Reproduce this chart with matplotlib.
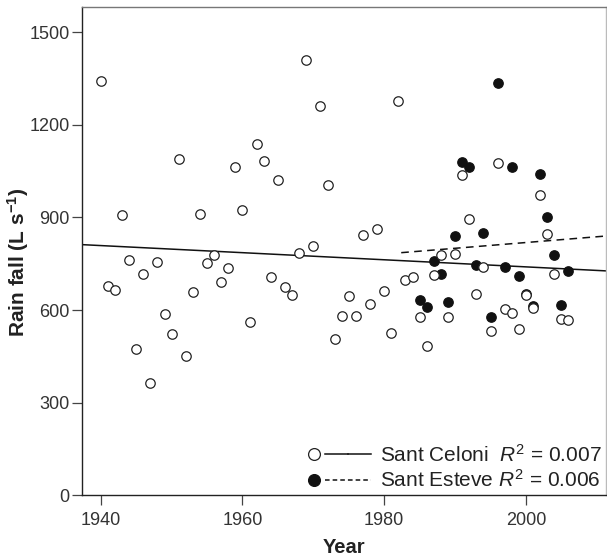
import matplotlib
matplotlib.use('Agg')
import matplotlib.pyplot as plt
from matplotlib.lines import Line2D
from matplotlib.legend_handler import HandlerTuple

plt.rcParams['font.family'] = ['Liberation Sans', 'DejaVu Sans']
plt.rcParams['mathtext.fontset'] = 'custom'
plt.rcParams['mathtext.rm'] = 'Liberation Sans'
plt.rcParams['mathtext.it'] = 'Liberation Sans:italic'
plt.rcParams['mathtext.bf'] = 'Liberation Sans:bold'

# Sant Celoni (open circles), one value per year
celoni_years = list(range(1940, 2007))
celoni_rain = [1342, 679, 666, 908, 762, 473, 717, 364, 755, 586,
               521, 1089, 451, 660, 911, 751, 779, 691, 737, 1062,
               924, 562, 1137, 1084, 706, 1020, 676, 648, 785, 1410,
               807, 1262, 1005, 507, 580, 646, 580, 844, 619, 862,
               661, 527, 1278, 696, 708, 578, 485, 715, 777, 578,
               781, 1039, 896, 653, 740, 532, 1077, 604, 592, 540,
               648, 606, 973, 846, 718, 572, 568]

# Sant Esteve (filled circles)
esteve_years = list(range(1985, 2007))
esteve_rain = [632, 611, 758, 717, 626, 839, 1079, 1063, 747, 849,
               578, 1337, 741, 1065, 710, 652, 614, 1040, 900, 777,
               616, 728]

# regression lines (start / end of drawn segment)
celoni_fit_x = [1937.4, 2011.3]
celoni_fit_y = [812, 727]
esteve_fit_x = [1982.4, 2011.3]
esteve_fit_y = [786, 840]

celoni_label = r'Sant Celoni  $R^2$ = 0.007'
esteve_label = r'Sant Esteve $R^2$ = 0.006'

fig = plt.figure(figsize=(6.07, 5.56), dpi=100)
ax = fig.add_axes([0.1356, 0.1092, 0.8628, 0.8777])

ax.plot(celoni_fit_x, celoni_fit_y, '-', color='#111111', lw=1.1, zorder=2)
ax.plot(esteve_fit_x, esteve_fit_y, '--', color='#111111', lw=1.1,
        dashes=(5, 3.5), zorder=2)
ax.plot(esteve_years, esteve_rain, 'o', ls='none', ms=6.8, mfc='#111111',
        mec='#111111', mew=0.9, zorder=3)
ax.plot(celoni_years, celoni_rain, 'o', ls='none', ms=6.8, mfc='white',
        mec='#222222', mew=0.9, zorder=4)

ax.set_xlim(1937.4, 2011.3)
ax.set_ylim(0, 1581)
ax.set_xticks([1940, 1960, 1980, 2000])
ax.set_yticks([0, 300, 600, 900, 1200, 1500])
ax.tick_params(axis='both', labelsize=13, length=7, width=0.9,
               color='#444444', labelcolor='#333333', pad=2)
ax.tick_params(axis='x', pad=5)

ax.spines['left'].set_color('#222222')
ax.spines['bottom'].set_color('#222222')
ax.spines['top'].set_color('#777777')
ax.spines['right'].set_color('#bbbbbb')
for s in ax.spines.values():
    s.set_linewidth(1.0)

ax.set_ylabel(r'Rain fall (L s$^{\mathbf{-1}}$)', fontsize=15,
              fontweight='bold', color='#222222')
ax.yaxis.set_label_coords(-0.098, 0.478)
ax.set_xlabel('Year', fontsize=14.5, fontweight='bold', color='#222222')
ax.xaxis.set_label_coords(0.5, -0.087)

h1 = (Line2D([], [], marker='o', ls='none', ms=8.5, mfc='white', mec='#222222', mew=0.9),
      Line2D([], [], ls='-', color='#111111', lw=1.1),
      Line2D([], [], ls='-', color='#111111', lw=1.1))
h2 = (Line2D([], [], marker='o', ls='none', ms=8.5, mfc='#111111', mec='#111111', mew=0.9),
      Line2D([], [], ls='--', color='#111111', lw=1.1, dashes=(3, 2)),
      Line2D([], [], ls='--', color='#111111', lw=1.1, dashes=(3, 2)))
ax.legend([h1, h2], [celoni_label, esteve_label],
          handler_map={tuple: HandlerTuple(ndivide=None, pad=0)},
          loc='lower right', frameon=False, fontsize=15,
          handlelength=3.3, handletextpad=0.45, labelspacing=0.18,
          borderaxespad=0.1, borderpad=0.1, labelcolor='#222222')

fig.savefig('out.png', dpi=100)
